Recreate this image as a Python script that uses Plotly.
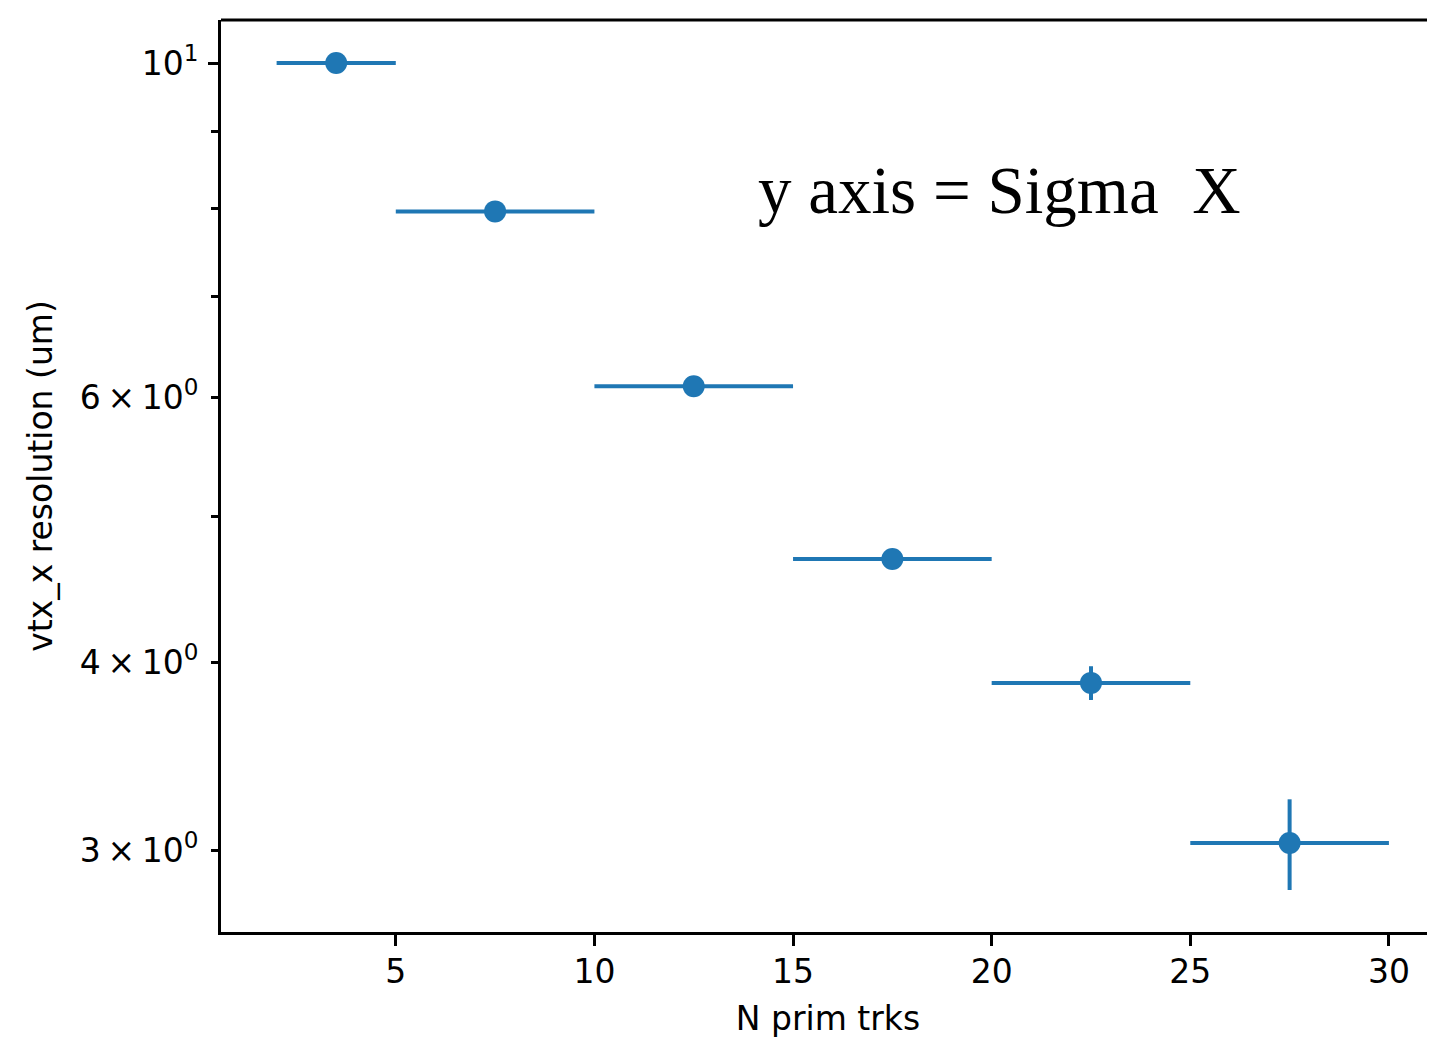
import plotly.graph_objects as go

# Data
x_centers = [3.5, 7.5, 12.5, 17.5, 22.5, 27.5]
x_halfwidth = [1.5, 2.5, 2.5, 2.5, 2.5, 2.5]
sigma_x = [10.0, 7.97, 6.10, 4.685, 3.876, 3.034]
sigma_err = [0.08, 0.07, 0.05, 0.04, 0.10, 0.21]

x_ticks = [5, 10, 15, 20, 25, 30]
y_major_vals = [3, 4, 6, 10]
y_major_text = ["3\u2009×\u200910<sup>0</sup>", "4\u2009×\u200910<sup>0</sup>",
                "6\u2009×\u200910<sup>0</sup>", "10<sup>1</sup>"]
y_minor_vals = [5, 7, 8, 9]

color = "#1f77b4"
font_family = "DejaVu Sans"
FS = 33

fig = go.Figure()
fig.add_trace(go.Scatter(
    x=x_centers, y=sigma_x, mode="markers",
    marker=dict(color=color, size=22),
    error_x=dict(type="data", array=x_halfwidth, width=0, thickness=4, color=color),
    error_y=dict(type="data", array=sigma_err, width=0, thickness=4, color=color),
    showlegend=False,
))

yr = [0.42297, 1.02855]
fig.update_layout(
    width=1427, height=1032,
    margin=dict(l=213, r=0, t=12, b=108),
    plot_bgcolor="white", paper_bgcolor="white",
    font=dict(family=font_family, size=FS, color="#000000"),
    xaxis=dict(
        range=[0.6, 31.16], tickvals=x_ticks, ticks="outside", ticklen=11, tickwidth=2.5,
        tickcolor="#000", showline=True, linecolor="#000", linewidth=3,
        showgrid=False, zeroline=False, ticklabelstandoff=-3,
        title=dict(text="N prim trks", standoff=18, font=dict(size=FS)),
        tickfont=dict(size=FS),
    ),
    yaxis=dict(
        type="log", range=yr, tickvals=y_major_vals, ticktext=y_major_text,
        ticks="outside", ticklen=7, tickwidth=2.5, tickcolor="#000",
        minor=dict(tickvals=y_minor_vals, ticks="outside", ticklen=7, tickwidth=2.5, tickcolor="#000"),
        showline=True, linecolor="#000", linewidth=3, showgrid=False, zeroline=False,
        ticklabelstandoff=6,
        title=dict(text="vtx_x resolution (um)", standoff=18, font=dict(size=FS)),
        tickfont=dict(size=FS),
    ),
    yaxis2=dict(
        type="log", range=yr, overlaying="y", side="left", tickvals=[10],
        ticks="outside", ticklen=12, tickwidth=2.5, tickcolor="#000",
        showticklabels=False, showgrid=False, zeroline=False, showline=False,
    ),
    shapes=[dict(type="line", xref="paper", yref="paper", x0=0, x1=1, y0=1, y1=1,
                 line=dict(color="#000", width=3))],
    annotations=[dict(
        text="y axis = Sigma  X", xref="paper", yref="paper",
        x=(755 - 220) / 1214, y=1 - (190 - 20) / 912, xanchor="left", yanchor="middle",
        showarrow=False, font=dict(family="Liberation Serif", size=67, color="#000"),
    )],
)
fig.add_trace(go.Scatter(x=[None], y=[None], yaxis="y2", showlegend=False, hoverinfo="skip"))

fig.write_html("out.html")
